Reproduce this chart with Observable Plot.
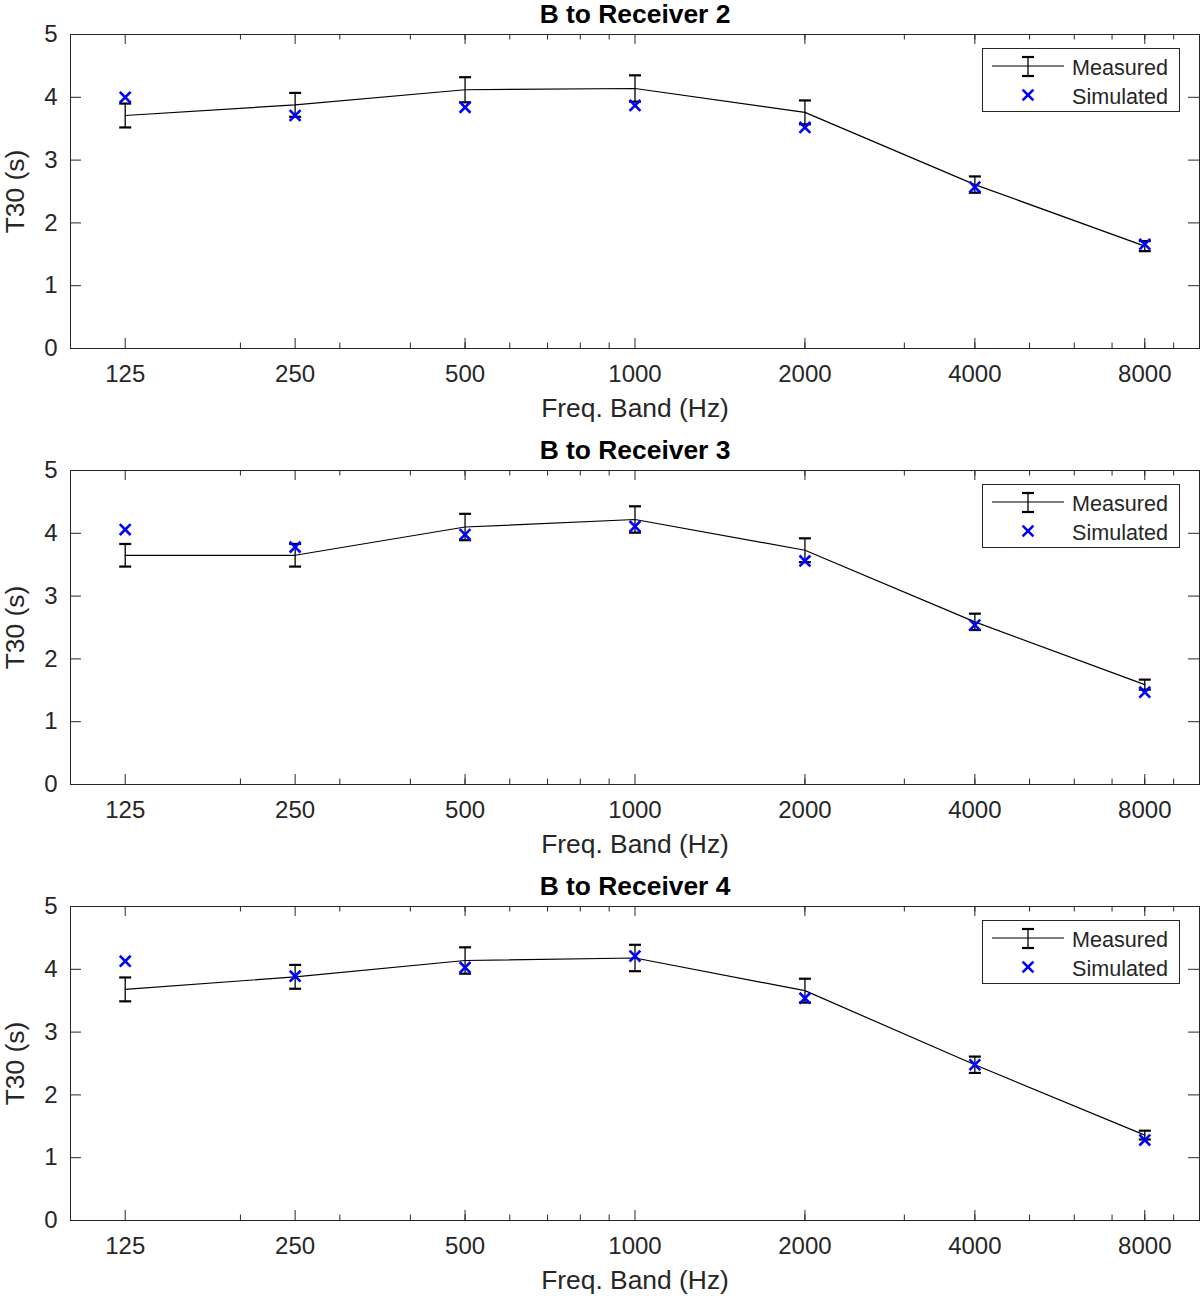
<!DOCTYPE html>
<html><head><meta charset="utf-8">
<script src="https://cdn.jsdelivr.net/npm/d3@7"></script>
<script src="https://cdn.jsdelivr.net/npm/@observablehq/plot@0.6"></script>
<style>
body{margin:0;background:#fff;font-family:"Liberation Sans",Arial,Helvetica,sans-serif;}
.panel{position:relative;width:1200px;}
.legend{position:absolute;left:982px;top:48px;width:198px;height:64px;box-sizing:border-box;border:1px solid #262626;background:#fff;}
</style></head><body><div id="root"></div>
<script>
const freqs = [125, 250, 500, 1000, 2000, 4000, 8000];
const freqLabels = ["125", "250", "500", "1000", "2000", "4000", "8000"];
const minorTicks = [200, 300, 400, 500, 600, 700, 800, 900, 2000, 3000, 4000, 5000, 6000, 7000, 8000, 9000];
const yTicks = [0, 1, 2, 3, 4, 5];
const yLabels = ["0", "1", "2", "3", "4", "5"];
const titles = ["B to Receiver 2", "B to Receiver 3", "B to Receiver 4"];

const r2Measured  = [3.71, 3.88, 4.12, 4.14, 3.76, 2.61, 1.63];
const r2Error     = [0.19, 0.19, 0.20, 0.21, 0.19, 0.13, 0.08];
const r2Simulated = [4.00, 3.71, 3.84, 3.87, 3.52, 2.57, 1.66];

const r3Measured  = [3.65, 3.65, 4.10, 4.22, 3.73, 2.59, 1.59];
const r3Error     = [0.18, 0.18, 0.21, 0.21, 0.19, 0.13, 0.08];
const r3Simulated = [4.06, 3.78, 3.98, 4.11, 3.56, 2.54, 1.47];

const r4Measured  = [3.68, 3.88, 4.14, 4.18, 3.66, 2.48, 1.36];
const r4Error     = [0.19, 0.19, 0.21, 0.21, 0.19, 0.13, 0.07];
const r4Simulated = [4.13, 3.89, 4.03, 4.21, 3.54, 2.48, 1.28];

const FONT = '"Liberation Sans", Arial, Helvetica, sans-serif';
const AX = "#262626";
const cap = {draw(ctx, size) { const w = Math.sqrt(size / Math.PI); ctx.moveTo(-w, 0); ctx.lineTo(w, 0); }};

function panel(title, measured, error, simulated, height, marginBottom) {
  const rows = freqs.map((f, i) => ({freq: f, measured: measured[i], lo: measured[i] - error[i], hi: measured[i] + error[i], simulated: simulated[i]}));
  const xl = freqs.map((f, i) => ({f, label: freqLabels[i]}));
  const yl = yTicks.map((v, i) => ({v, label: yLabels[i]}));
  const frameH = height - 34 - marginBottom;
  const frameW = 1200 - 70 - 1;
  return Plot.plot({
    width: 1200, height, marginTop: 34, marginBottom, marginLeft: 70, marginRight: 1,
    style: {fontFamily: FONT, fontSize: "24px", color: AX, background: "white", overflow: "visible"},
    x: {type: "log", domain: [100, 10000], axis: null},
    y: {domain: [0, 5], axis: null},
    marks: [
      Plot.tickX(freqs, {x: d => d, insetTop: frameH - 10, stroke: AX}),
      Plot.tickX(freqs, {x: d => d, insetBottom: frameH - 10, stroke: AX}),
      Plot.tickX(minorTicks, {x: d => d, insetTop: frameH - 5.5, stroke: AX}),
      Plot.tickX(minorTicks, {x: d => d, insetBottom: frameH - 5.5, stroke: AX}),
      Plot.tickY(yTicks, {y: d => d, insetRight: frameW - 11, stroke: AX}),
      Plot.tickY(yTicks, {y: d => d, insetLeft: frameW - 11, stroke: AX}),
      Plot.frame({stroke: AX, strokeWidth: 1}),
      Plot.text(xl, {x: "f", text: "label", frameAnchor: "bottom", dy: 26, lineAnchor: "middle", textAnchor: "middle", fontSize: 24, fill: AX}),
      Plot.text(yl, {y: "v", text: "label", frameAnchor: "left", dx: -13, lineAnchor: "middle", textAnchor: "end", fontSize: 24, fill: AX}),
      Plot.text([title], {frameAnchor: "top", dy: -20, fontWeight: "bold", fontSize: 26.4, lineAnchor: "middle", textAnchor: "middle", fill: "black"}),
      Plot.text(["Freq. Band (Hz)"], {frameAnchor: "bottom", dy: 60, fontSize: 26.4, lineAnchor: "middle", textAnchor: "middle", fill: AX}),
      Plot.text(["T30 (s)"], {frameAnchor: "left", dx: -55, rotate: -90, fontSize: 26.4, lineAnchor: "middle", textAnchor: "middle", fill: AX}),
      Plot.line(rows, {x: "freq", y: "measured", stroke: "black", strokeWidth: 1.2}),
      Plot.ruleX(rows, {x: "freq", y1: "lo", y2: "hi", stroke: "black", strokeWidth: 1.3}),
      Plot.dot(rows, {x: "freq", y: "lo", symbol: cap, r: 6, stroke: "black", strokeWidth: 2.2}),
      Plot.dot(rows, {x: "freq", y: "hi", symbol: cap, r: 6, stroke: "black", strokeWidth: 2.2}),
      Plot.dot(rows, {x: "freq", y: "simulated", symbol: "times", r: 5, stroke: "#0000ff", strokeWidth: 2.6})
    ]
  });
}

function legend() {
  const div = document.createElement("div");
  div.className = "legend";
  const svg = d3.create("svg").attr("width", 196).attr("height", 62).style("display", "block");
  svg.append("line").attr("x1", 9).attr("x2", 81).attr("y1", 17).attr("y2", 17).attr("stroke", "black").attr("stroke-width", 1.2);
  svg.append("line").attr("x1", 45).attr("x2", 45).attr("y1", 8).attr("y2", 27).attr("stroke", "black").attr("stroke-width", 1.3);
  svg.append("line").attr("x1", 39).attr("x2", 51).attr("y1", 8).attr("y2", 8).attr("stroke", "black").attr("stroke-width", 2.2);
  svg.append("line").attr("x1", 39).attr("x2", 51).attr("y1", 27).attr("y2", 27).attr("stroke", "black").attr("stroke-width", 2.2);
  svg.append("path").attr("d", d3.symbol(d3.symbolTimes, 78.5)()).attr("transform", "translate(45,46)").attr("stroke", "#0000ff").attr("stroke-width", 2.6).attr("fill", "none");
  const t = [["Measured", 18], ["Simulated", 47]];
  for (const [s, y] of t) {
    svg.append("text").attr("x", 89).attr("y", y).attr("dy", "0.35em").attr("font-size", 21.6).attr("font-family", FONT).attr("fill", AX).text(s);
  }
  div.appendChild(svg.node());
  return div;
}

const root = document.getElementById("root");
const specs = [
  [titles[0], r2Measured, r2Error, r2Simulated, 436, 88],
  [titles[1], r3Measured, r3Error, r3Simulated, 436, 88],
  [titles[2], r4Measured, r4Error, r4Simulated, 424, 76]
];
for (const s of specs) {
  const div = document.createElement("div");
  div.className = "panel";
  div.style.height = s[4] + "px";
  div.appendChild(panel(...s));
  div.appendChild(legend());
  root.appendChild(div);
}
</script></body></html>
